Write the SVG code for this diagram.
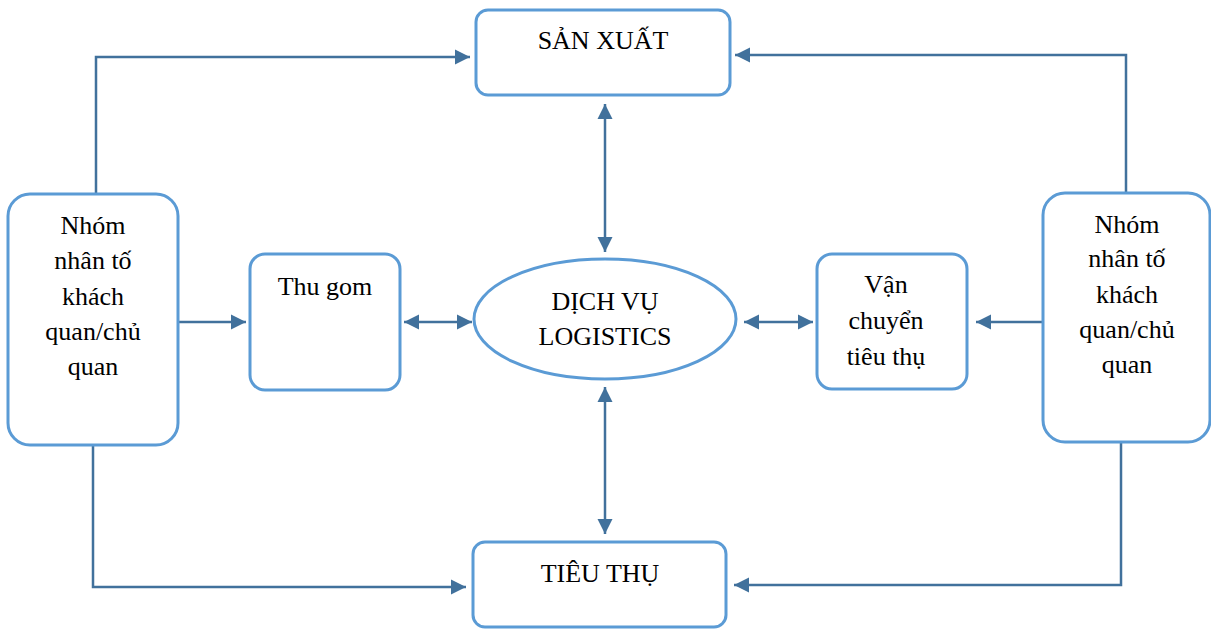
<svg xmlns="http://www.w3.org/2000/svg" width="1211" height="630" viewBox="0 0 1211 630">
<style>
.box{fill:#fff;stroke:#5B9BD5;stroke-width:3}
.ln{fill:none;stroke:#41719C;stroke-width:2.5}
text{font-family:"Liberation Serif","Times New Roman",serif;font-size:26px;fill:#000;text-anchor:middle}
</style>
<defs>
<marker id="ah" viewBox="0 0 10 10" refX="10" refY="5" markerWidth="6" markerHeight="6.4" markerUnits="strokeWidth" orient="auto-start-reverse">
<path d="M0,0 L10,5 L0,10 Z" fill="#41719C"/>
</marker>
</defs>
<rect width="1211" height="630" fill="#fff"/>
<g id="connectors">
<path class="ln" d="M96,194 V57 H470" marker-end="url(#ah)"/>
<path class="ln" d="M1126,192 V55 H735" marker-end="url(#ah)"/>
<path class="ln" d="M93,445 V587 H466" marker-end="url(#ah)"/>
<path class="ln" d="M1121,443 V585 H734" marker-end="url(#ah)"/>
<path class="ln" d="M605,104 V252" marker-start="url(#ah)" marker-end="url(#ah)"/>
<path class="ln" d="M605,387 V534" marker-start="url(#ah)" marker-end="url(#ah)"/>
<path class="ln" d="M178,322 H246" marker-end="url(#ah)"/>
<path class="ln" d="M404,322 H472" marker-start="url(#ah)" marker-end="url(#ah)"/>
<path class="ln" d="M744,322 H813" marker-start="url(#ah)" marker-end="url(#ah)"/>
<path class="ln" d="M1043,322 H976" marker-end="url(#ah)"/>
</g>
<g id="san-xuat">
<rect class="box" x="476" y="10" width="254" height="85" rx="12"/>
<text x="603" y="49">SẢN XUẤT</text>
</g>
<g id="tieu-thu">
<rect class="box" x="473" y="542" width="253" height="85" rx="12"/>
<text x="600" y="582">TIÊU THỤ</text>
</g>
<g id="dich-vu">
<ellipse class="box" cx="605" cy="319" rx="131" ry="60"/>
<text x="605" y="310">DỊCH VỤ</text>
<text x="605" y="345">LOGISTICS</text>
</g>
<g id="nhom-trai">
<rect class="box" x="8" y="194" width="170" height="251" rx="22"/>
<text x="93" y="234">Nhóm</text>
<text x="93" y="269">nhân tố</text>
<text x="93" y="305">khách</text>
<text x="93" y="340">quan/chủ</text>
<text x="93" y="375">quan</text>
</g>
<g id="thu-gom">
<rect class="box" x="250" y="254" width="150" height="136" rx="15"/>
<text x="325" y="295">Thu gom</text>
</g>
<g id="van-chuyen">
<rect class="box" x="817" y="254" width="150" height="135" rx="15"/>
<text x="886" y="293">Vận</text>
<text x="886" y="329">chuyển</text>
<text x="886" y="365">tiêu thụ</text>
</g>
<g id="nhom-phai">
<rect class="box" x="1043" y="193" width="167" height="249" rx="22"/>
<text x="1127" y="233">Nhóm</text>
<text x="1127" y="267">nhân tố</text>
<text x="1127" y="303">khách</text>
<text x="1127" y="338">quan/chủ</text>
<text x="1127" y="373">quan</text>
</g>
</svg>
